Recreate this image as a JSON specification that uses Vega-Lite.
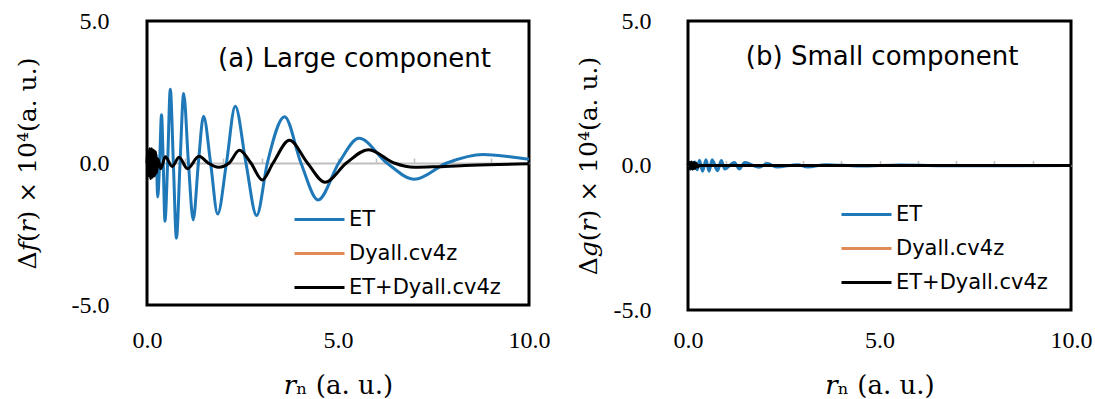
{
  "$schema": "https://vega.github.io/schema/vega-lite/v6.json",
  "padding": {"left": 13, "top": 7, "right": 5, "bottom": 0},
  "background": "white",
  "spacing": 22,
  "config": {
    "view": {"stroke": "black", "strokeWidth": 3},
    "axis": {"grid": false, "labelColor": "black", "titleColor": "black"}
  },
  "datasets": {
    "large": [
      {"r": 0, "v": 0, "series": "ET"}, {"r": 0.05, "v": 0.3, "series": "ET"}, {"r": 0.1, "v": -0.35, "series": "ET"}, {"r": 0.15, "v": 0.3, "series": "ET"}, {"r": 0.2, "v": -0.4, "series": "ET"}, {"r": 0.24, "v": 0.3, "series": "ET"}, {"r": 0.28, "v": -1.2, "series": "ET"}, {"r": 0.33, "v": 0, "series": "ET"}, {"r": 0.38, "v": 1.7, "series": "ET"}, {"r": 0.425, "v": 0, "series": "ET"}, {"r": 0.47, "v": -2.05, "series": "ET"}, {"r": 0.54, "v": 0, "series": "ET"}, {"r": 0.61, "v": 2.6, "series": "ET"}, {"r": 0.69, "v": 0, "series": "ET"}, {"r": 0.77, "v": -2.65, "series": "ET"}, {"r": 0.865, "v": 0, "series": "ET"}, {"r": 0.96, "v": 2.45, "series": "ET"}, {"r": 1.085, "v": 0, "series": "ET"}, {"r": 1.21, "v": -2.0, "series": "ET"}, {"r": 1.345, "v": 0, "series": "ET"}, {"r": 1.48, "v": 1.65, "series": "ET"}, {"r": 1.665, "v": 0, "series": "ET"}, {"r": 1.85, "v": -1.8, "series": "ET"}, {"r": 2.08, "v": 0, "series": "ET"}, {"r": 2.31, "v": 2.0, "series": "ET"}, {"r": 2.59, "v": 0, "series": "ET"}, {"r": 2.87, "v": -1.85, "series": "ET"}, {"r": 3.15, "v": 0, "series": "ET"}, {"r": 3.6, "v": 1.63, "series": "ET"}, {"r": 4.03, "v": 0, "series": "ET"}, {"r": 4.48, "v": -1.3, "series": "ET"}, {"r": 5.02, "v": 0, "series": "ET"}, {"r": 5.55, "v": 0.87, "series": "ET"}, {"r": 6.28, "v": 0, "series": "ET"}, {"r": 7.0, "v": -0.57, "series": "ET"}, {"r": 7.85, "v": 0, "series": "ET"}, {"r": 8.8, "v": 0.3, "series": "ET"}, {"r": 9.5, "v": 0.22, "series": "ET"}, {"r": 10, "v": 0.13, "series": "ET"},
      {"r": 0, "v": 0, "series": "ET+Dyall.cv4z"}, {"r": 0.02, "v": 0.35, "series": "ET+Dyall.cv4z"}, {"r": 0.045, "v": -0.45, "series": "ET+Dyall.cv4z"}, {"r": 0.07, "v": 0.5, "series": "ET+Dyall.cv4z"}, {"r": 0.095, "v": -0.55, "series": "ET+Dyall.cv4z"}, {"r": 0.12, "v": 0.5, "series": "ET+Dyall.cv4z"}, {"r": 0.145, "v": -0.5, "series": "ET+Dyall.cv4z"}, {"r": 0.17, "v": 0.45, "series": "ET+Dyall.cv4z"}, {"r": 0.195, "v": -0.45, "series": "ET+Dyall.cv4z"}, {"r": 0.22, "v": 0.4, "series": "ET+Dyall.cv4z"}, {"r": 0.25, "v": -0.35, "series": "ET+Dyall.cv4z"}, {"r": 0.28, "v": 0.15, "series": "ET+Dyall.cv4z"}, {"r": 0.36, "v": -0.2, "series": "ET+Dyall.cv4z"}, {"r": 0.48, "v": 0.22, "series": "ET+Dyall.cv4z"}, {"r": 0.66, "v": -0.12, "series": "ET+Dyall.cv4z"}, {"r": 0.84, "v": 0.2, "series": "ET+Dyall.cv4z"}, {"r": 1.06, "v": -0.2, "series": "ET+Dyall.cv4z"}, {"r": 1.36, "v": 0.24, "series": "ET+Dyall.cv4z"}, {"r": 1.6, "v": 0, "series": "ET+Dyall.cv4z"}, {"r": 1.87, "v": -0.15, "series": "ET+Dyall.cv4z"}, {"r": 2.15, "v": 0, "series": "ET+Dyall.cv4z"}, {"r": 2.42, "v": 0.45, "series": "ET+Dyall.cv4z"}, {"r": 2.72, "v": 0, "series": "ET+Dyall.cv4z"}, {"r": 3.02, "v": -0.6, "series": "ET+Dyall.cv4z"}, {"r": 3.3, "v": 0, "series": "ET+Dyall.cv4z"}, {"r": 3.73, "v": 0.8, "series": "ET+Dyall.cv4z"}, {"r": 4.2, "v": 0, "series": "ET+Dyall.cv4z"}, {"r": 4.66, "v": -0.68, "series": "ET+Dyall.cv4z"}, {"r": 5.22, "v": 0, "series": "ET+Dyall.cv4z"}, {"r": 5.8, "v": 0.47, "series": "ET+Dyall.cv4z"}, {"r": 6.47, "v": 0, "series": "ET+Dyall.cv4z"}, {"r": 7.0, "v": -0.15, "series": "ET+Dyall.cv4z"}, {"r": 7.6, "v": -0.13, "series": "ET+Dyall.cv4z"}, {"r": 8.5, "v": -0.08, "series": "ET+Dyall.cv4z"}, {"r": 10, "v": -0.03, "series": "ET+Dyall.cv4z"}
    ],
    "small": [
      {"r": 0, "v": 0, "series": "ET"}, {"r": 0.06, "v": 0.1, "series": "ET"}, {"r": 0.12, "v": -0.12, "series": "ET"}, {"r": 0.18, "v": 0.12, "series": "ET"}, {"r": 0.24, "v": -0.15, "series": "ET"}, {"r": 0.3, "v": 0.18, "series": "ET"}, {"r": 0.38, "v": -0.2, "series": "ET"}, {"r": 0.47, "v": 0.2, "series": "ET"}, {"r": 0.55, "v": -0.2, "series": "ET"}, {"r": 0.63, "v": 0.2, "series": "ET"}, {"r": 0.77, "v": -0.18, "series": "ET"}, {"r": 0.87, "v": 0.17, "series": "ET"}, {"r": 0.96, "v": -0.12, "series": "ET"}, {"r": 1.21, "v": 0.1, "series": "ET"}, {"r": 1.34, "v": -0.12, "series": "ET"}, {"r": 1.48, "v": 0.1, "series": "ET"}, {"r": 1.85, "v": -0.06, "series": "ET"}, {"r": 2.08, "v": 0.07, "series": "ET"}, {"r": 2.31, "v": -0.05, "series": "ET"}, {"r": 2.87, "v": 0.03, "series": "ET"}, {"r": 3.12, "v": -0.05, "series": "ET"}, {"r": 3.6, "v": 0.03, "series": "ET"}, {"r": 4.48, "v": -0.02, "series": "ET"}, {"r": 5.55, "v": 0.015, "series": "ET"}, {"r": 7.0, "v": -0.01, "series": "ET"}, {"r": 10, "v": 0, "series": "ET"},
      {"r": 0, "v": 0, "series": "ET+Dyall.cv4z"}, {"r": 0.03, "v": 0.1, "series": "ET+Dyall.cv4z"}, {"r": 0.06, "v": -0.12, "series": "ET+Dyall.cv4z"}, {"r": 0.09, "v": 0.12, "series": "ET+Dyall.cv4z"}, {"r": 0.12, "v": -0.12, "series": "ET+Dyall.cv4z"}, {"r": 0.15, "v": 0.1, "series": "ET+Dyall.cv4z"}, {"r": 0.18, "v": -0.1, "series": "ET+Dyall.cv4z"}, {"r": 0.21, "v": 0.08, "series": "ET+Dyall.cv4z"}, {"r": 0.25, "v": -0.05, "series": "ET+Dyall.cv4z"}, {"r": 0.3, "v": 0, "series": "ET+Dyall.cv4z"}, {"r": 1, "v": 0, "series": "ET+Dyall.cv4z"}, {"r": 5, "v": 0, "series": "ET+Dyall.cv4z"}, {"r": 10, "v": 0, "series": "ET+Dyall.cv4z"}
    ]
  },
  "resolve": {"scale": {"color": "independent"}, "legend": {"color": "independent"}},
  "hconcat": [
    {
      "width": 382,
      "height": 284,
      "resolve": {"axis": {"x": "independent"}},
      "layer": [
        {
          "data": {"name": "large"},
          "transform": [{"filter": "datum.series === 'ET'"}],
          "mark": {"type": "line", "strokeWidth": 3, "interpolate": "monotone"},
          "encoding": {
            "x": {"field": "r", "type": "quantitative", "scale": {"domain": [0, 10], "nice": false},
              "axis": {"orient": "top", "offset": -142, "values": [1, 2, 3, 4, 5, 6, 7, 8, 9], "labels": false, "title": null, "domainColor": "#BFBFBF", "domainWidth": 2, "tickColor": "#BFBFBF", "tickWidth": 1.5, "tickSize": 5}},
            "y": {"field": "v", "type": "quantitative", "scale": {"domain": [-5, 5], "nice": false},
              "axis": {"values": [-5, 0, 5], "labelExpr": "datum.value < 0 ? '-' + format(-datum.value, '.1f') : format(datum.value, '.1f')", "domain": false, "ticks": false, "labelPadding": 38, "labelFont": "Liberation Serif", "labelFontSize": 24, "title": "Δ𝑓(𝑟) × 10⁴(a. u.)", "titleFont": "DejaVu Serif", "titleFontSize": 25, "titleFontWeight": "normal", "titlePadding": 31}},
            "color": {"field": "series", "type": "nominal",
              "scale": {"domain": ["ET", "Dyall.cv4z", "ET+Dyall.cv4z"], "range": ["#1F78B8", "#E08A55", "#000000"]},
              "legend": {"title": null, "orient": "none", "legendX": 147, "legendY": 188, "symbolType": "M-2,0H8", "symbolSize": 100, "symbolStrokeWidth": 3, "labelFont": "DejaVu Sans", "labelFontSize": 21, "labelOffset": 34, "rowPadding": 12, "padding": 0, "labelColor": "black"}}
          }
        },
        {
          "data": {"name": "large"},
          "transform": [{"filter": "datum.series === 'ET+Dyall.cv4z'"}],
          "mark": {"type": "line", "strokeWidth": 3, "interpolate": "monotone"},
          "encoding": {
            "x": {"field": "r", "type": "quantitative",
              "axis": {"orient": "bottom", "values": [0, 5, 10], "format": ".1f", "domain": false, "ticks": false, "labelFlush": false, "labelPadding": 23, "labelFont": "Liberation Serif", "labelFontSize": 24, "title": "𝑟ₙ (a. u.)", "titleFont": "DejaVu Serif", "titleFontSize": 26, "titleFontWeight": "normal", "titlePadding": 20}},
            "y": {"field": "v", "type": "quantitative"},
            "color": {"field": "series", "type": "nominal"}
          }
        },
        {
          "data": {"values": [{"label": "(a) Large component"}]},
          "mark": {"type": "text", "align": "left", "baseline": "middle", "font": "DejaVu Sans", "fontSize": 26, "color": "black"},
          "encoding": {
            "x": {"datum": 1.86, "type": "quantitative", "axis": null},
            "y": {"datum": 3.66, "type": "quantitative"},
            "text": {"field": "label"}
          }
        }
      ]
    },
    {
      "width": 383,
      "height": 289,
      "resolve": {"axis": {"x": "independent"}},
      "layer": [
        {
          "data": {"name": "small"},
          "transform": [{"filter": "datum.series === 'ET'"}],
          "mark": {"type": "line", "strokeWidth": 3, "interpolate": "monotone"},
          "encoding": {
            "x": {"field": "r", "type": "quantitative", "scale": {"domain": [0, 10], "nice": false},
              "axis": {"orient": "top", "offset": -144.5, "values": [1, 2, 3, 4, 5, 6, 7, 8, 9], "labels": false, "title": null, "domainColor": "#BFBFBF", "domainWidth": 2, "tickColor": "#BFBFBF", "tickWidth": 1.5, "tickSize": 5}},
            "y": {"field": "v", "type": "quantitative", "scale": {"domain": [-5, 5], "nice": false},
              "axis": {"values": [-5, 0, 5], "labelExpr": "datum.value < 0 ? '-' + format(-datum.value, '.1f') : format(datum.value, '.1f')", "domain": false, "ticks": false, "labelPadding": 37, "labelFont": "Liberation Serif", "labelFontSize": 24, "title": "Δ𝑔(𝑟) × 10⁴(a. u.)", "titleFont": "DejaVu Serif", "titleFontSize": 25, "titleFontWeight": "normal", "titlePadding": 12}},
            "color": {"field": "series", "type": "nominal",
              "scale": {"domain": ["ET", "Dyall.cv4z", "ET+Dyall.cv4z"], "range": ["#1F78B8", "#E08A55", "#000000"]},
              "legend": {"title": null, "orient": "none", "legendX": 153, "legendY": 183, "symbolType": "M-2,0H8", "symbolSize": 100, "symbolStrokeWidth": 3, "labelFont": "DejaVu Sans", "labelFontSize": 21, "labelOffset": 34, "rowPadding": 12, "padding": 0, "labelColor": "black"}}
          }
        },
        {
          "data": {"name": "small"},
          "transform": [{"filter": "datum.series === 'ET+Dyall.cv4z'"}],
          "mark": {"type": "line", "strokeWidth": 3, "interpolate": "monotone"},
          "encoding": {
            "x": {"field": "r", "type": "quantitative",
              "axis": {"orient": "bottom", "values": [0, 5, 10], "format": ".1f", "domain": false, "ticks": false, "labelFlush": false, "labelPadding": 18, "labelFont": "Liberation Serif", "labelFontSize": 24, "title": "𝑟ₙ (a. u.)", "titleFont": "DejaVu Serif", "titleFontSize": 26, "titleFontWeight": "normal", "titlePadding": 20}},
            "y": {"field": "v", "type": "quantitative"},
            "color": {"field": "series", "type": "nominal"}
          }
        },
        {
          "data": {"values": [{"label": "(b) Small component"}]},
          "mark": {"type": "text", "align": "left", "baseline": "middle", "font": "DejaVu Sans", "fontSize": 26, "color": "black"},
          "encoding": {
            "x": {"datum": 1.51, "type": "quantitative", "axis": null},
            "y": {"datum": 3.76, "type": "quantitative"},
            "text": {"field": "label"}
          }
        }
      ]
    }
  ]
}
